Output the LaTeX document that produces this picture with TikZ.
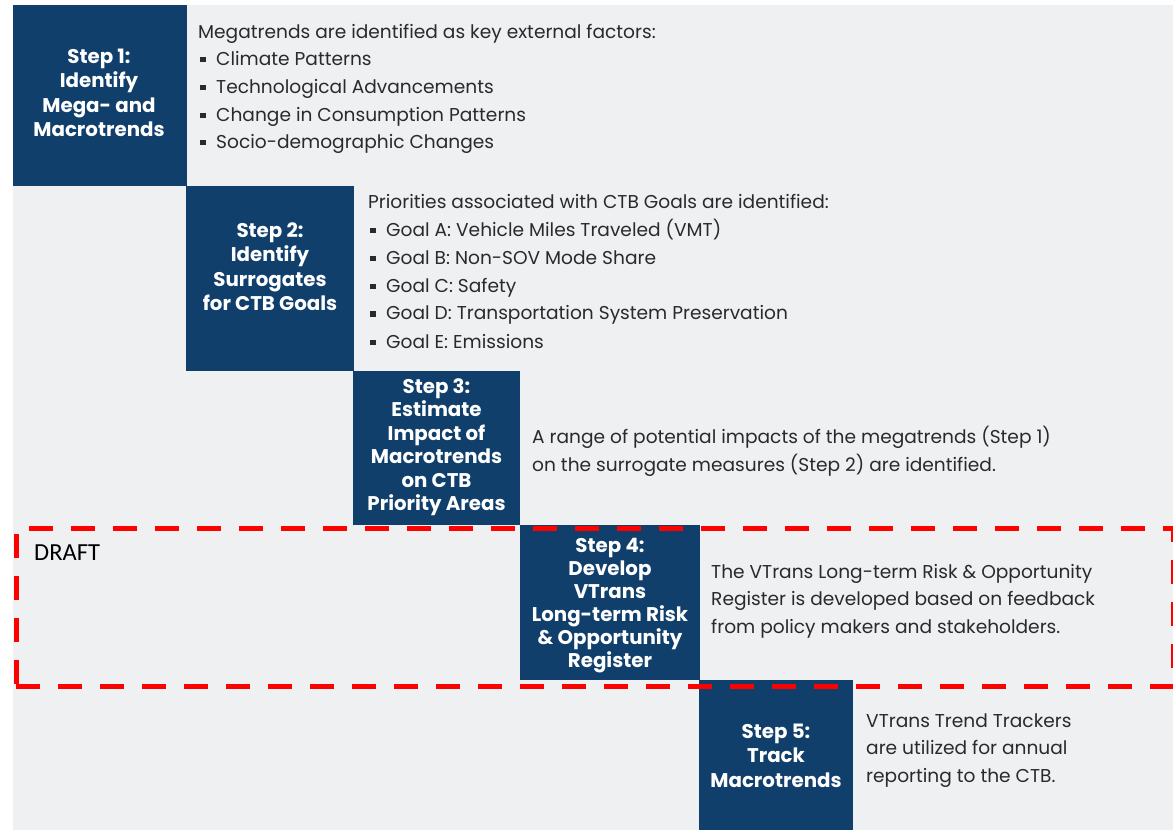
\documentclass[tikz,border=0pt]{standalone}
\usepackage{fontspec}
\setmainfont{Poppins}
\newfontfamily\draftfont{Carlito}
\definecolor{stepblue}{HTML}{113F6C}
\definecolor{bggray}{HTML}{EFF0F2}
\definecolor{txtgray}{HTML}{2A2A2A}
\definecolor{draftred}{HTML}{FF0000}
\newcommand\sqbul{\rule[3pt]{5.5pt}{5.5pt}\hspace{10.5pt}}
\begin{document}
\begin{tikzpicture}[x=1pt,y=-1pt,
 stepbox/.style={fill=stepblue, draw=none, inner sep=0, outer sep=0, anchor=north west},
 lbl/.style={text=white, font=\fontsize{19.8}{23}\selectfont\bfseries, inner sep=0, anchor=base},
 desc/.style={text=txtgray, font=\fontsize{18.6}{22}\selectfont, inner sep=0, anchor=base west},
 frame/.style={draw=draftred, line width=5pt, dash pattern=on 24pt off 18pt, inner sep=0, anchor=north west},
]
\useasboundingbox (0,0) rectangle (1173,830);
\fill[white] (0,0) rectangle (1173,830);
\fill[bggray] (13,5) rectangle (1173,830);

% step boxes
\node[stepbox, minimum width=174, minimum height=181] (b1) at (13,5) {};
\node[stepbox, minimum width=168, minimum height=185] (b2) at (186,186) {};
\node[stepbox, minimum width=167, minimum height=154] (b3) at (353,371) {};
\node[stepbox, minimum width=180, minimum height=155] (b4) at (520,525) {};
\node[stepbox, minimum width=154, minimum height=150] (b5) at (699,680) {};

% step 1
\node[lbl] (l1a) at (99,63) {Step 1:};
\node[lbl] (l1b) at (99,87.5) {Identify};
\node[lbl] (l1c) at (99,112) {Mega- and};
\node[lbl] (l1d) at (99,136.5) {Macrotrends};
\node[desc] (t1a) at (198,38) {Megatrends are identified as key external factors:};
\node[desc] (t1b) at (200,65) {\sqbul Climate Patterns};
\node[desc] (t1c) at (200,93) {\sqbul Technological Advancements};
\node[desc] (t1d) at (200,121) {\sqbul Change in Consumption Patterns};
\node[desc] (t1e) at (200,148) {\sqbul Socio-demographic Changes};

% step 2
\node[lbl] (l2a) at (270,237) {Step 2:};
\node[lbl] (l2b) at (270,261.5) {Identify};
\node[lbl] (l2c) at (270,286) {Surrogates};
\node[lbl] (l2d) at (270,310.5) {for CTB Goals};
\node[desc] (t2a) at (368,208) {Priorities associated with CTB Goals are identified:};
\node[desc] (t2b) at (370,236) {\sqbul Goal A: Vehicle Miles Traveled (VMT)};
\node[desc] (t2c) at (370,264) {\sqbul Goal B: Non-SOV Mode Share};
\node[desc] (t2d) at (370,292) {\sqbul Goal C: Safety};
\node[desc] (t2e) at (370,319.5) {\sqbul Goal D: Transportation System Preservation};
\node[desc] (t2f) at (370,348) {\sqbul Goal E: Emissions};

% step 3
\node[lbl] (l3a) at (436.5,393) {Step 3:};
\node[lbl] (l3b) at (436.5,416.5) {Estimate};
\node[lbl] (l3c) at (436.5,440) {Impact of};
\node[lbl] (l3d) at (436.5,463.5) {Macrotrends};
\node[lbl] (l3e) at (436.5,487) {on CTB};
\node[lbl] (l3f) at (436.5,510.5) {Priority Areas};
\node[desc] (t3a) at (532,443) {A range of potential impacts of the megatrends (Step 1)};
\node[desc] (t3b) at (532,471) {on the surrogate measures (Step 2) are identified.};

% step 4
\node[lbl] (l4a) at (610,552) {Step 4:};
\node[lbl] (l4b) at (610,575) {Develop};
\node[lbl] (l4c) at (610,598) {VTrans};
\node[lbl] (l4d) at (610,621) {Long-term Risk};
\node[lbl] (l4e) at (610,644) {\& Opportunity};
\node[lbl] (l4f) at (610,667) {Register};
\node[desc] (t4a) at (711,578) {The VTrans Long-term Risk \& Opportunity};
\node[desc] (t4b) at (711,605.5) {Register is developed based on feedback};
\node[desc] (t4c) at (711,633) {from policy makers and stakeholders.};

% step 5
\node[lbl] (l5a) at (776,738) {Step 5:};
\node[lbl] (l5b) at (776,762.5) {Track};
\node[lbl] (l5c) at (776,787) {Macrotrends};
\node[desc] (t5a) at (866,727) {VTrans Trend Trackers};
\node[desc] (t5b) at (866,754.5) {are utilized for annual};
\node[desc] (t5c) at (866,782) {reporting to the CTB.};

% draft frame
\node[frame, minimum width=1157.5, minimum height=158] (fr) at (13.5,526) {};
\node[font=\draftfont\fontsize{24.5}{28}\selectfont, text=black, anchor=base west, inner sep=0] (draft) at (34,560) {DRAFT};
\end{tikzpicture}
\end{document}
